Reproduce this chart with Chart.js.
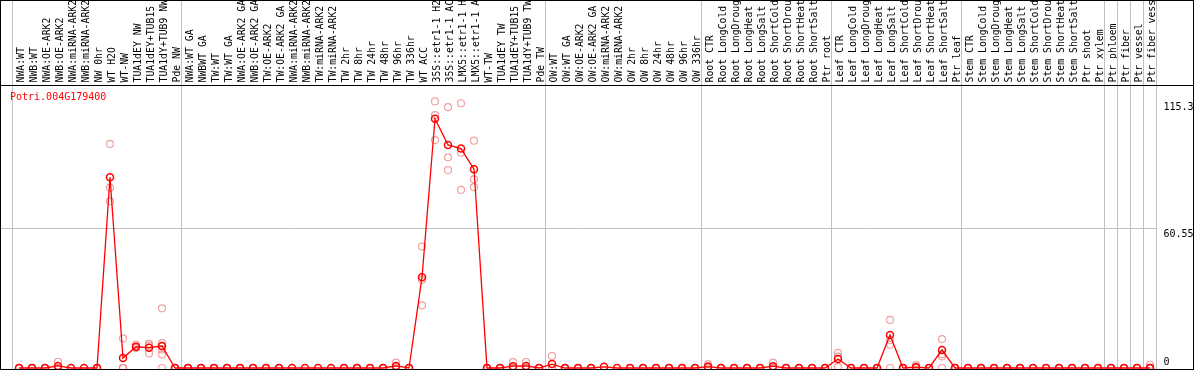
<!DOCTYPE html>
<html>
<head>
<meta charset="utf-8">
<script src="https://cdn.jsdelivr.net/npm/chart.js@4/dist/chart.umd.min.js"></script>
<style>
  html, body { margin: 0; padding: 0; background: #fff; }
  #wrap { width: 1194px; height: 370px; }
</style>
</head>
<body>
<div id="wrap"><canvas id="chart" width="1194" height="370"></canvas></div>
<script>
// gene shown
const geneName = "Potri.004G179400";

// conditions, in plot order
const categories = [
  "NWA:WT", "NWB:WT", "NWA:OE-ARK2", "NWB:OE-ARK2", "NWA:miRNA-ARK2", "NWB:miRNA-ARK2",
  "NW 0hr", "WT H2O", "WT-NW", "TUA1dEY NW", "TUA1dEY+TUB15 NW", "TUA1dY+TUB9 NW", "Pde NW",
  "NWA:WT GA", "NWBWT GA", "TW:WT", "TW:WT GA", "NWA:OE-ARK2 GA", "NWB:OE-ARK2 GA",
  "TW:OE-ARK2", "TW:OE-ARK2 GA", "NWA:miRNA-ARK2", "NWB:miRNA-ARK2", "TW:miRNA-ARK2", "TW:miRNA-ARK2",
  "TW 2hr", "TW 8hr", "TW 24hr", "TW 48hr", "TW 96hr", "TW 336hr", "WT ACC",
  "35S::etr1-1 H2O", "35S::etr1-1 ACC", "LMX5::etr1-1 H2O", "LMX5::etr1-1 ACC",
  "WT-TW", "TUA1dEY TW", "TUA1dEY+TUB15 TW", "TUA1dY+TUB9 TW", "Pde TW",
  "OW:WT", "OW:WT GA", "OW:OE-ARK2", "OW:OE-ARK2 GA", "OW:miRNA-ARK2", "OW:miRNA-ARK2",
  "OW 2hr", "OW 8hr", "OW 24hr", "OW 48hr", "OW 96hr", "OW 336hr",
  "Root CTR", "Root LongCold", "Root LongDrought", "Root LongHeat", "Root LongSalt",
  "Root ShortCold", "Root ShortDrought", "Root ShortHeat", "Root ShortSalt", "Ptr root",
  "Leaf CTR", "Leaf LongCold", "Leaf LongDrought", "Leaf LongHeat", "Leaf LongSalt",
  "Leaf ShortCold", "Leaf ShortDrought", "Leaf ShortHeat", "Leaf ShortSalt", "Ptr leaf",
  "Stem CTR", "Stem LongCold", "Stem LongDrought", "Stem LongHeat", "Stem LongSalt",
  "Stem ShortCold", "Stem ShortDrought", "Stem ShortHeat", "Stem ShortSalt", "Ptr shoot", "Ptr xylem",
  "Ptr phloem", "Ptr fiber", "Ptr vessel", "Ptr fiber vessel"
];

// how many conditions in each experiment block
const groupSizes = [13, 28, 12, 10, 10, 11, 1, 1, 1, 1];

// mean expression
const means = [
  0, 0, 0, 0.9, 0, 0, 0, 82.5, 4.3, 9.2, 8.8, 9.5, 0,
  0, 0, 0, 0, 0, 0, 0, 0, 0, 0, 0, 0, 0, 0, 0, 0, 0.9, 0, 39.2, 107.8, 96.5, 94.9, 86.0, 0, 0, 0.8, 0.9, 0,
  1.7, 0, 0, 0, 0.5, 0, 0, 0, 0, 0, 0, 0,
  0.6, 0, 0, 0, 0, 0.8, 0, 0, 0, 0,
  3.9, 0, 0, 0, 14.3, 0, 0.4, 0, 7.8, 0,
  0, 0, 0, 0, 0, 0, 0, 0, 0, 0, 0,
  0, 0, 0, 0
];

// single replicates
const replicates = [
  [0, 0, 0], [0, 0, 0], [0, 0, 0], [2.7, 0, 0], [0, 0, 0], [0, 0, 0], [0, 0, 0],
  [96.9, 78.0, 72.1], [12.8, 0, 0], [10.0, 9.0, 8.6], [10.4, 9.7, 6.3],
  [25.8, 10.8, 9.4, 8.0, 5.8, 0], [0, 0, 0],
  [0, 0, 0], [0, 0, 0], [0, 0, 0], [0, 0, 0], [0, 0, 0], [0, 0, 0], [0, 0, 0], [0, 0, 0],
  [0, 0, 0], [0, 0, 0], [0, 0, 0], [0, 0, 0], [0, 0, 0], [0, 0, 0], [0, 0, 0], [0, 0, 0],
  [2.3, 0.4, 0], [0, 0, 0], [52.5, 38.1, 27.1], [115.3, 109.4, 98.6], [112.8, 91.1, 85.6],
  [114.5, 93.1, 77.0], [98.3, 81.6, 78.2], [0, 0, 0], [0, 0, 0], [2.5, 0, 0], [2.6, 0, 0], [0, 0, 0],
  [5.2, 0, 0], [0, 0, 0], [0, 0, 0], [0, 0, 0], [1.4, 0, 0], [0, 0, 0],
  [0, 0, 0], [0, 0, 0], [0, 0, 0], [0, 0, 0], [0, 0, 0], [0, 0, 0],
  [1.7, 0, 0], [0, 0, 0], [0, 0, 0], [0, 0, 0], [0, 0, 0],
  [2.3, 0, 0], [0, 0, 0], [0, 0, 0], [0, 0, 0], [0, 0, 0],
  [6.5, 4.8, 0.5], [0, 0, 0], [0, 0, 0], [0, 0, 0], [20.8, 12.0, 10.1],
  [0, 0, 0], [1.3, 0, 0], [0, 0, 0], [12.5, 6.0, 5.0], [0, 0, 0],
  [0, 0, 0], [0, 0, 0], [0, 0, 0], [0, 0, 0], [0, 0, 0], [0, 0, 0],
  [0, 0, 0], [0, 0, 0], [0, 0, 0], [0, 0, 0], [0, 0, 0],
  [0, 0, 0], [0, 0, 0], [0, 0, 0], [0, 0, 0]
];

// right-hand axis
const yTickValues = [0, 60.55, 115.3];
const yTickLabels = ["0", "60.55", "115.3"];
const yGridValue = 60.55;
const yMax = 122.4;

const MONO = "'DejaVu Sans Mono', 'Liberation Mono', monospace";

const repPoints = [];
replicates.forEach((reps, i) => {
  reps.forEach(v => repPoints.push({ x: categories[i], y: v }));
});

// frame, block separators, side labels
const framePlugin = {
  id: "frame",
  beforeDatasetsDraw(chart) {
    const { ctx, chartArea, scales } = chart;
    const x = scales.x, y = scales.y;
    ctx.save();
    ctx.strokeStyle = "#c0c0c0";
    ctx.lineWidth = 1;
    ctx.beginPath();
    const gy = Math.round(y.getPixelForValue(yGridValue)) + 0.5;
    ctx.moveTo(0, gy);
    ctx.lineTo(chartArea.right, gy);
    let k = 0;
    const bounds = [0];
    groupSizes.forEach(n => { k += n; bounds.push(k); });
    bounds.forEach(b => {
      const px = Math.round(x.getPixelForValue(b - 0.5)) - 0.5;
      ctx.moveTo(px, 0);
      ctx.lineTo(px, chart.height);
    });
    ctx.stroke();

    ctx.fillStyle = "#ff0000";
    ctx.font = "10px " + MONO;
    ctx.textAlign = "left";
    ctx.textBaseline = "top";
    ctx.fillText(geneName, 10, 92);
    ctx.restore();
  },
  afterDraw(chart) {
    const { ctx, chartArea, scales } = chart;
    const y = scales.y;
    ctx.save();
    ctx.fillStyle = "#000";
    ctx.font = "10px " + MONO;
    ctx.textAlign = "left";
    yTickValues.forEach((v, i) => {
      const py = y.getPixelForValue(v);
      if (v === 0) {
        ctx.textBaseline = "bottom";
        ctx.fillText(yTickLabels[i], chartArea.right + 7, py - 1);
      } else {
        ctx.textBaseline = "top";
        ctx.fillText(yTickLabels[i], chartArea.right + 7, py + 1);
      }
    });
    ctx.strokeStyle = "#000";
    ctx.lineWidth = 1;
    ctx.strokeRect(0.5, 0.5, chart.width - 1, chart.height - 1);
    ctx.beginPath();
    ctx.moveTo(0, chartArea.top + 0.5);
    ctx.lineTo(chart.width, chartArea.top + 0.5);
    ctx.stroke();
    ctx.restore();
  }
};

const ctx = document.getElementById("chart").getContext("2d");
new Chart(ctx, {
  type: "line",
  data: {
    labels: categories,
    datasets: [
      {
        label: "mean",
        data: means,
        borderColor: "#ff0000",
        borderWidth: 1.3,
        pointStyle: "circle",
        pointRadius: 3.5,
        pointBorderWidth: 1.5,
        pointBorderColor: "#ff0000",
        pointBackgroundColor: "rgba(0,0,0,0)",
        tension: 0,
        clip: false
      },
      {
        label: "replicates",
        data: repPoints,
        showLine: false,
        pointStyle: "circle",
        pointRadius: 3.5,
        pointBorderWidth: 1.2,
        pointBorderColor: "rgba(230,100,100,0.6)",
        pointBackgroundColor: "rgba(0,0,0,0)",
        clip: false
      }
    ]
  },
  options: {
    responsive: false,
    animation: false,
    devicePixelRatio: 1,
    layout: { autoPadding: false, padding: { left: 12.5, right: 37.5, top: 0, bottom: 2 } },
    plugins: {
      legend: { display: false },
      tooltip: { enabled: false }
    },
    scales: {
      x: {
        type: "category",
        position: "top",
        offset: true,
        grid: { display: false, drawTicks: false, tickLength: 0 },
        border: { display: false },
        ticks: {
          autoSkip: false,
          minRotation: 90,
          maxRotation: 90,
          padding: 2.5,
          labelOffset: 14.5,
          color: "#000",
          font: { family: MONO, size: 9.8 }
        },
        afterFit(scale) { scale.height = 85; }
      },
      y: {
        display: false,
        min: 0,
        max: yMax
      }
    }
  },
  plugins: [framePlugin]
});
</script>
</body>
</html>
